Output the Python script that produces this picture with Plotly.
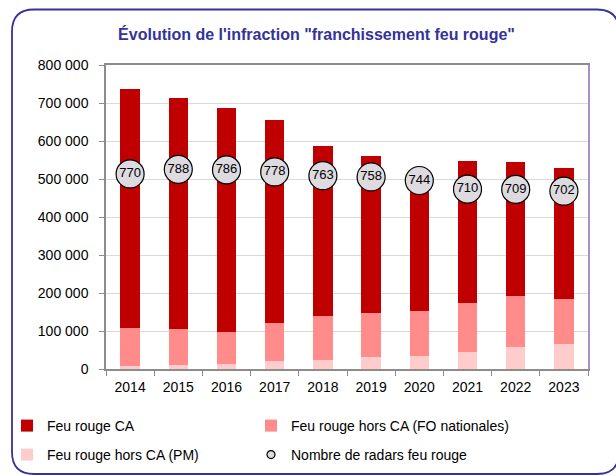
import plotly.graph_objects as go

years = ["2014", "2015", "2016", "2017", "2018", "2019", "2020", "2021", "2022", "2023"]
feu_rouge_ca = [629000, 610000, 590000, 533000, 447000, 412000, 337000, 373000, 354000, 344000]
feu_rouge_fo = [99000, 93500, 84000, 102000, 116000, 117000, 120000, 130000, 133000, 119000]
feu_rouge_pm = [8000, 10500, 14000, 20000, 24000, 31000, 33000, 45000, 59000, 65000]
nb_radars = [770, 788, 786, 778, 763, 758, 744, 710, 709, 702]
y_tickvals = [0, 100000, 200000, 300000, 400000, 500000, 600000, 700000, 800000]
y_ticktext = ["0", "100 000", "200 000", "300 000", "400 000", "500 000", "600 000", "700 000", "800 000"]

FONT = "Arial, Liberation Sans, sans-serif"

# page body margin is removed below, so screen pixels == figure pixels
W, H = 616, 475
L, R, T, B = 106, 588, 65, 369


def px_to_paper(x, y):
    return (x - L) / (R - L), (B - y) / (B - T)


fig = go.Figure()
fig.add_trace(go.Bar(x=years, y=feu_rouge_pm, name="Feu rouge hors CA (PM)",
                     marker=dict(color="#ffcccc", line=dict(width=0)), legend="legend3"))
fig.add_trace(go.Bar(x=years, y=feu_rouge_fo, name="Feu rouge hors CA (FO nationales)",
                     marker=dict(color="#ff8b8b", line=dict(width=0)), legend="legend2"))
fig.add_trace(go.Bar(x=years, y=feu_rouge_ca, name="Feu rouge CA",
                     marker=dict(color="#c00000", line=dict(width=0)), legend="legend"))
fig.add_trace(go.Scatter(x=years, y=nb_radars, yaxis="y2", mode="markers",
                         name="Nombre de radars feu rouge", showlegend=False,
                         marker=dict(size=28, color="#dedbe0", line=dict(color="#000000", width=1.2))))
fig.add_trace(go.Scatter(x=years, y=nb_radars, yaxis="y2", mode="text",
                         text=[str(v) for v in nb_radars], textposition="middle center",
                         textfont=dict(size=13, color="#000000", family=FONT),
                         showlegend=False, hoverinfo="skip"))
fig.add_trace(go.Scatter(x=[None], y=[None], yaxis="y2", mode="markers",
                         name="Nombre de radars feu rouge",
                         marker=dict(size=8, color="#dedbe0", line=dict(color="#000000", width=1.2)),
                         legend="legend4", hoverinfo="skip"))

# outer rounded frame (screen pixels)
x0, y0, x1, y1, r = 12, 9.5, 619, 474, 22
def P(x, y):
    a, b = px_to_paper(x, y)
    return f"{a:.5f},{b:.5f}"
path = (f"M{P(x0 + r, y0)} L{P(x1 - r, y0)} Q{P(x1, y0)} {P(x1, y0 + r)} "
        f"L{P(x1, y1 - r)} Q{P(x1, y1)} {P(x1 - r, y1)} "
        f"L{P(x0 + r, y1)} Q{P(x0, y1)} {P(x0, y1 - r)} "
        f"L{P(x0, y0 + r)} Q{P(x0, y0)} {P(x0 + r, y0)} Z")


def leg(xs, ys):
    a, b = px_to_paper(xs, ys)
    return dict(orientation="h", x=a, xanchor="left", y=b, yanchor="middle",
                font=dict(size=14), bgcolor="rgba(0,0,0,0)")


fig.update_layout(
    width=W, height=H,
    margin=dict(l=L, r=W - R, t=T, b=H - B, pad=0, autoexpand=False),
    paper_bgcolor="white", plot_bgcolor="white",
    font=dict(family=FONT, size=14, color="#000000"),
    barmode="stack", bargap=0.6,
    title=dict(text="<b>Évolution de l'infraction \"franchissement feu rouge\"</b>",
               font=dict(size=16, color="#333399", family=FONT),
               x=316.5 / W, xanchor="center", xref="container",
               y=1 - 34 / H, yanchor="middle", yref="container"),
    xaxis=dict(type="category", range=[-0.5, 9.5], showgrid=False, showline=True,
               linecolor="#8c8c8c", linewidth=1.5, mirror=True, ticks="outside",
               tickson="boundaries", ticklen=5, tickcolor="#8c8c8c", tickwidth=1.3,
               tickfont=dict(size=14), ticklabelstandoff=4, zeroline=False, automargin=False),
    yaxis=dict(range=[0, 800000], tickvals=y_tickvals, ticktext=y_ticktext,
               showgrid=True, gridcolor="#d9d9d9", gridwidth=1, showline=True,
               linecolor="#8c8c8c", linewidth=1.5, ticks="outside", ticklen=5,
               tickcolor="#8c8c8c", tickwidth=1.3, tickfont=dict(size=14),
               ticklabelstandoff=8, zeroline=False, automargin=False),
    yaxis2=dict(range=[0, 1200], overlaying="y", side="right", showgrid=False,
                showticklabels=False, ticks="", showline=True, linecolor="#a98fc8",
                linewidth=1.5, zeroline=False, automargin=False),
    legend=leg(7, 426),
    legend2=leg(251, 426),
    legend3=leg(7, 455),
    legend4=leg(251, 455),
    shapes=[dict(type="path", xref="paper", yref="paper", path=path,
                 line=dict(color="#333399", width=1.8), layer="below")],
    showlegend=True,
)

fig.write_html("out.html", config={"displayModeBar": False},
               post_script="document.body.style.margin='0';")
